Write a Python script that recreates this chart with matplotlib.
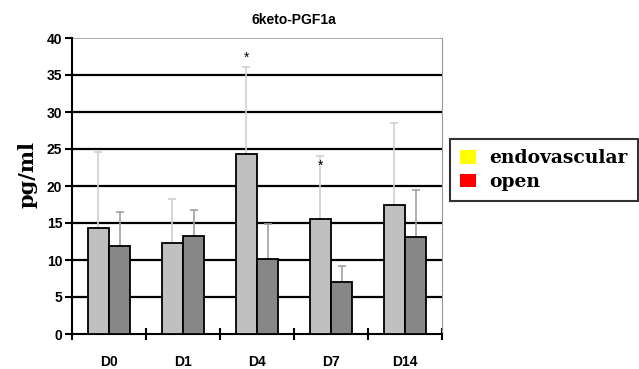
import numpy as np
import matplotlib.pyplot as plt
from matplotlib.patches import Patch

# values
days = ["D0", "D1", "D4", "D7", "D14"]
endo = [14.3, 12.25, 24.3, 15.5, 17.5]
endo_err = [10.3, 5.95, 11.8, 8.5, 11.0]
open_ = [11.9, 13.2, 10.2, 7.0, 13.15]
open_err = [4.6, 3.6, 4.6, 2.2, 6.35]
stars = {2: 37.3, 3: 22.7}   # index -> y position of "*"

fig = plt.figure(figsize=(6.39, 3.69), dpi=100)
ax = fig.add_axes([72 / 639, 35 / 369, 370 / 639, 296 / 369])

x = np.arange(len(days))
w = 0.285

ax.bar(x - w / 2, endo, w, color="#c0c0c0", edgecolor="black", linewidth=1.3, zorder=3)
ax.bar(x + w / 2, open_, w, color="#878787", edgecolor="black", linewidth=1.3, zorder=3)
ax.errorbar(x - w / 2, endo, yerr=[np.zeros(5), endo_err], fmt="none",
            ecolor="#cfcfcf", elinewidth=1.2, capsize=3, capthick=1.2, zorder=2)
ax.errorbar(x + w / 2, open_, yerr=[np.zeros(5), open_err], fmt="none",
            ecolor="#a0a0a0", elinewidth=1.2, capsize=3, capthick=1.2, zorder=2)

for i, yv in stars.items():
    ax.text(x[i] - w / 2, yv, "*", ha="center", va="center", fontsize=10,
            family="Liberation Sans", zorder=4)

ax.set_xlim(-0.5, len(days) - 0.5)
ax.set_ylim(0, 40)
for yv in range(5, 40, 5):
    ax.axhline(yv, color="black", linewidth=1.6, zorder=1)
ax.axhline(40, color="#999999", linewidth=1.2, zorder=1)

ax.spines["top"].set_visible(False)
ax.spines["right"].set_color("#999999")
ax.spines["left"].set_linewidth(1.5)
ax.spines["bottom"].set_linewidth(1.5)

ax.set_xticks(np.arange(-0.5, len(days), 1.0))
ax.set_xticklabels([])
ax.tick_params(axis="x", which="major", direction="inout", length=9, width=1.5)
ax.set_xticks(x, minor=True)
ax.set_xticklabels(days, minor=True, fontsize=10, fontweight="bold", family="Liberation Sans")
ax.tick_params(axis="x", which="minor", length=0, pad=15)

ax.set_yticks(range(0, 41, 5))
ax.set_yticklabels([str(v) for v in range(0, 41, 5)], fontsize=10,
                   fontweight="bold", family="Liberation Sans")
ax.tick_params(axis="y", direction="out", length=5, width=1.5, pad=2)

ax.set_title("6keto-PGF1a", fontsize=10, fontweight="bold", family="Liberation Sans",
             x=0.6, pad=10)
fig.text(28 / 639, 1 - 175 / 369, "pg/ml", rotation=90, ha="center", va="center",
         fontsize=15, fontweight="bold", family="DejaVu Serif")

handles = [Patch(facecolor="#ffff00", edgecolor="none"), Patch(facecolor="#ff0000", edgecolor="none")]
leg = fig.legend(handles, ["endovascular", "open"], loc="upper left",
                 bbox_to_anchor=(450 / 639, 1 - 139 / 369),
                 prop={"family": "DejaVu Serif", "weight": "bold", "size": 13.5},
                 frameon=True, fancybox=False, handlelength=0.85, handleheight=0.75,
                 handletextpad=0.7, borderpad=0.55, labelspacing=0.3, borderaxespad=0)
leg.get_frame().set_edgecolor("black")
leg.get_frame().set_linewidth(1.5)

fig.savefig("out.png", dpi=100)
